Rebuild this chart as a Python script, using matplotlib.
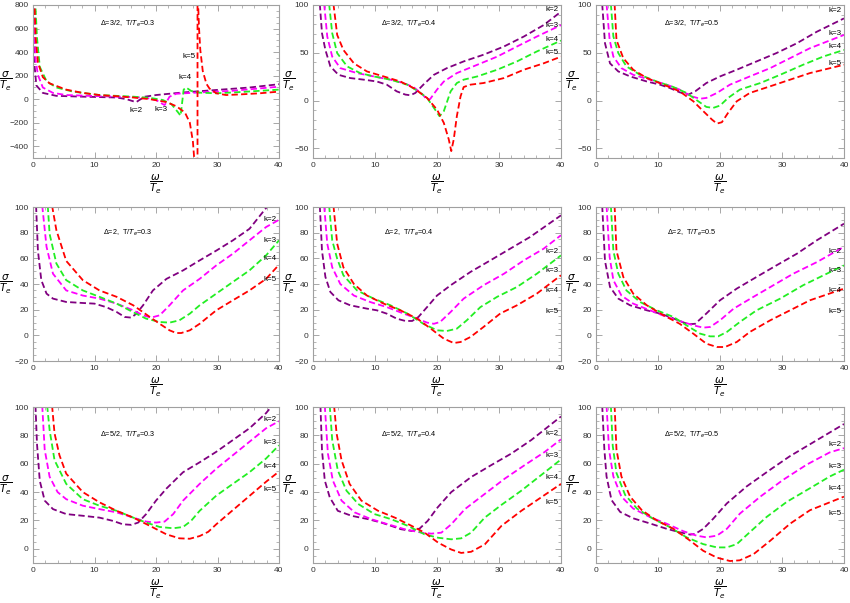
import numpy as np
import matplotlib
matplotlib.use("Agg")
import matplotlib.pyplot as plt
from matplotlib.ticker import MultipleLocator, AutoMinorLocator

plt.rcParams['font.family'] = ['Liberation Sans', 'DejaVu Sans']
plt.rcParams['mathtext.fontset'] = 'dejavusans'

# curves: (omega/Te, sigma/Te) points, k = 2, 3, 4, 5
# --- Delta = 3/2, T/Te = 0.3
a_k2 = [(0.1, 900), (0.27, 275), (0.54, 117), (1.6, 53), (3.8, 28), (8.1, 21), (13.6, 14), (15.2, 0),
        (16.3, -18), (16.8, -25), (17.3, -7), (18.2, 21), (20, 35), (24.4, 57), (29.8, 78), (35.2, 99), (40, 127)]
a_k3 = [(0.15, 900), (0.4, 346), (0.8, 205), (1.6, 99), (3.25, 53), (5.4, 35), (10.8, 25), (16.3, 18),
        (18.4, 11), (20, -7), (21.1, -42), (21.4, -50), (21.7, -25), (22.2, 21), (23.3, 46), (27.1, 57),
        (32.5, 71), (40, 106)]
a_k4 = [(0.3, 900), (0.65, 523), (1.1, 275), (2.2, 152), (3.8, 99), (6.5, 64), (10.8, 35), (16.3, 21),
        (19, 11), (21.1, -7), (22.5, -42), (23.6, -113), (24, -141), (24.3, -7), (24.5, 81), (24.9, 99),
        (25.7, 70), (27.1, 55), (29.8, 50), (33, 58), (40, 81)]
a_k5 = [(0.2, 900), (0.43, 523), (0.8, 311), (1.6, 187), (2.7, 134), (5.4, 81), (8.1, 53), (10.8, 35),
        (13.6, 25), (16.3, 14), (19, 0), (21.7, -25), (23.3, -60), (24.7, -113), (25.5, -200), (26, -360),
        (26.5, -700), (26.75, -900), (26.75, 950), (27.0, 600), (27.2, 420), (27.6, 240), (28.2, 130),
        (28.7, 90), (29.8, 50), (31.4, 35), (33.6, 40), (36.9, 50), (40, 64)]

# --- Delta = 3/2, T/Te = 0.4
b_k2 = [(1.1, 101), (1.45, 70.5), (2, 53), (2.8, 35.8), (4.1, 27), (6, 23.6), (8.2, 21.9), (10.3, 20),
        (11.9, 16.7), (13.5, 9.7), (14.9, 6.3), (15.7, 5.6), (16.5, 8), (17.8, 16.7), (19.5, 27), (21.6, 34),
        (24.3, 41), (27.5, 48), (30.8, 56.6), (34, 67), (37.2, 79), (40, 93)]
b_k3 = [(1.8, 101), (2.3, 67), (3.1, 46), (4.4, 34), (7.1, 28.8), (9.8, 25.3), (12.5, 21.9), (14.6, 18.4),
        (16.2, 14.2), (17.6, 7), (18.4, 1), (18.9, 1.7), (20, 11.5), (21.1, 20), (23.2, 28.8), (26.5, 37.5),
        (29.7, 46), (32.9, 56.6), (36.1, 67), (40, 79)]
b_k4 = [(2.6, 101), (3.1, 70.5), (3.9, 49.7), (5.5, 35.8), (7.6, 28.8), (9.8, 25.3), (12.5, 21.9),
        (15.2, 16.7), (17, 9.7), (18.4, 2.8), (19.5, -7.6), (20.4, -16.3), (21.1, -11), (22.2, 9.7),
        (23.2, 18.4), (24.3, 21.9), (26.5, 25.3), (29.7, 32.3), (32.9, 41), (36.1, 51.4), (40, 62.8)]
b_k5 = [(3.3, 101), (3.9, 68.7), (4.9, 53), (6.6, 39), (8.7, 30.5), (11.4, 25.3), (14.1, 20), (16.2, 13.2),
        (18.4, 2.8), (20, -9.4), (21.1, -23.3), (21.9, -40.6), (22.3, -52.8), (22.7, -40.6), (23.2, -16.3),
        (23.8, 4.5), (24.3, 14.2), (25.4, 16.7), (27.5, 18.4), (30.8, 23.6), (34, 32.3), (37.2, 39), (40, 46)]

# --- Delta = 3/2, T/Te = 0.5
c_k2 = [(1, 101), (1.45, 60), (2.26, 39), (3.6, 30.5), (5.5, 25.3), (8.2, 20), (10.3, 16.7), (11.9, 13.2),
        (13.5, 8.7), (14.9, 6.3), (16, 9.7), (17.8, 18.4), (20, 25.3), (22.7, 32.3), (25.9, 41), (29.1, 49.7),
        (32.4, 60), (35.6, 72), (40, 86)]
c_k3 = [(1.7, 101), (2.2, 63.5), (2.8, 46), (4.1, 34), (6, 27), (8.7, 21.9), (11.4, 16.7), (13.5, 11.5),
        (15.4, 4.5), (16.8, 2), (17.8, 2.8), (19.5, 8), (21.6, 16.7), (24.8, 25.3), (28.1, 34), (31.3, 44.4),
        (34.5, 54.8), (40, 68.7)]
c_k4 = [(2.4, 101), (2.8, 67), (3.6, 49.7), (4.9, 35.8), (7.1, 27), (9.8, 20), (12.5, 14.2), (14.6, 8),
        (16.5, -0.7), (17.8, -6.6), (18.9, -7.6), (20, -5.2), (21.3, 2.8), (23.2, 11.5), (26.5, 18.4),
        (29.7, 27), (33.4, 37.5), (36.7, 46.2), (40, 53)]
c_k5 = [(3, 101), (3.3, 63.5), (4.4, 44.4), (6, 32.3), (8.2, 23.6), (10.9, 16.7), (13.5, 9.7), (15.7, -0.7),
        (17.3, -11), (18.7, -19.8), (19.5, -24), (20.3, -22.6), (21.3, -12.8), (22.7, -0.7), (24.8, 8),
        (28.1, 15), (31.3, 21.9), (34.5, 28.8), (40, 37.5)]

# --- Delta = 2, T/Te = 0.3
d_k2 = [(0.5, 101), (0.8, 66), (1.35, 43), (2.2, 32.5), (3.25, 28.6), (5.4, 26), (8.1, 25.2), (10, 24.7),
        (11.9, 22), (13.6, 18.2), (14.9, 14.3), (16, 13.8), (16.8, 16.9), (17.9, 23.4), (19.5, 35), (21.7, 44),
        (24.4, 50.6), (27.1, 58.4), (29.8, 66), (32.5, 74), (35.2, 83), (38.2, 101)]
d_k3 = [(1.5, 101), (2.2, 69), (3.25, 48), (5.4, 35), (8.1, 31), (10.8, 28.6), (13.6, 24.7), (16.3, 19.5),
        (17.9, 15.6), (19.2, 13.8), (20.6, 15.6), (22.2, 23.4), (24.4, 35), (27.1, 44), (29.8, 54.5),
        (32.5, 63.6), (35.2, 74), (37.9, 84.4), (40, 90)]
d_k4 = [(2.4, 101), (2.7, 79), (3.8, 56), (5.4, 43), (8.1, 35), (10.8, 30), (13.6, 24.7), (16.3, 18),
        (18.4, 13), (20.6, 10.4), (22.2, 9.9), (23.8, 11.7), (25.5, 16.9), (27.1, 23.4), (29.8, 32.5),
        (32.5, 41.6), (35.2, 50.6), (37.9, 62.3), (40, 74)]
d_k5 = [(3.1, 101), (3.8, 82), (5.4, 58), (8.1, 43), (10.8, 35), (13.6, 30), (16.3, 23.4), (19, 14.3),
        (20.6, 9), (22.2, 3.9), (23.3, 1.8), (24.1, 1.8), (25.5, 3.9), (27.1, 9), (29.8, 19.5), (32.5, 27.3),
        (35.2, 35), (37.9, 44), (40, 55)]

# --- Delta = 2, T/Te = 0.4
e_k2 = [(1.1, 101), (1.45, 66), (2, 45.5), (2.8, 33.8), (4.1, 27.3), (6, 23.4), (8.7, 20.8), (10.3, 19.5),
        (11.9, 16.9), (13.5, 13), (14.9, 11.2), (16, 11.2), (17, 14.3), (18.4, 22), (20, 31), (22.2, 39),
        (25.4, 49.4), (28.6, 58.4), (31.8, 67.5), (35, 76.6), (40, 93.5)]
e_k3 = [(1.8, 101), (2.3, 71.4), (3.1, 53), (4.4, 40), (6.6, 31), (9.2, 26), (11.9, 22), (14.6, 17),
        (16.8, 13), (18.4, 9.9), (19.5, 9), (20.5, 10.4), (22.2, 18.2), (24.3, 28.6), (27.5, 39), (30.8, 48),
        (34, 58.4), (37.2, 67.5), (40, 78)]
e_k4 = [(2.6, 101), (3.1, 74), (3.9, 59.7), (4.9, 46.8), (7.1, 35), (9.8, 28.6), (12.5, 23.4), (15.2, 17),
        (17.8, 9), (20, 3.9), (21.6, 3.4), (23.2, 5.2), (24.8, 11.7), (27, 22), (29.7, 30), (32.9, 37.7),
        (36.1, 48), (40, 62.3)]
e_k5 = [(3.3, 101), (3.9, 71.4), (4.9, 53), (6.6, 40), (8.7, 31), (11.4, 24.7), (14.1, 19.5), (16.8, 13),
        (19, 5.2), (21.1, -2.6), (22.7, -6), (23.8, -5.2), (25.4, -1.3), (27.5, 6.5), (30.2, 17), (32.9, 23.4),
        (36.1, 32.5), (40, 46.8)]

# --- Delta = 2, T/Te = 0.5
f_k2 = [(1, 101), (1.45, 58), (2.26, 37.7), (3.6, 28.6), (5.5, 23.4), (8.2, 19.5), (10.3, 17), (11.9, 14.3),
        (13.5, 11.2), (14.9, 8.6), (16, 9), (17.8, 17), (20, 27.3), (22.7, 36.4), (25.9, 45.5), (29.1, 54.5),
        (32.4, 63.6), (35.6, 74), (40, 87)]
f_k3 = [(1.7, 101), (2.2, 61), (2.8, 43), (4.1, 31), (6, 24.7), (8.7, 19.5), (11.4, 14.3), (13.5, 11.2),
        (15.7, 7.8), (17.3, 6), (18.4, 6.5), (20, 11.7), (22.2, 20.8), (25.4, 30), (28.6, 39), (31.8, 48),
        (35.6, 57), (40, 69)]
f_k4 = [(2.4, 101), (2.8, 66), (3.6, 48), (4.9, 35), (7.1, 26), (9.8, 19.5), (12.5, 14.3), (14.6, 7.8),
        (16.8, 1.3), (18.4, -0.8), (19.7, -0.8), (21.1, 2.6), (23.2, 10.4), (25.9, 19.5), (29.7, 28.6),
        (33.4, 39), (36.7, 46.8), (40, 54.5)]
f_k5 = [(3, 101), (3.3, 66), (4.4, 45.5), (6, 32.5), (8.2, 23.4), (10.9, 15.6), (13.5, 9), (15.7, 1.3),
        (17.8, -6.5), (19.5, -9.1), (20.8, -9.1), (22.7, -5.2), (24.8, 2.6), (28.1, 11.7), (31.3, 19.5),
        (34.5, 27.3), (40, 36.4)]

# --- Delta = 5/2, T/Te = 0.3
g_k2 = [(0.4, 101), (0.65, 74), (1.1, 48), (1.9, 34), (3.25, 28), (5.4, 24.5), (8.1, 23.3), (10.8, 22),
        (13, 19.7), (14.6, 17.3), (16, 16.9), (17.1, 18.5), (18.4, 24.5), (20, 34), (21.7, 42.5), (24.4, 54),
        (27.1, 61), (29.8, 68.4), (32.5, 76.7), (35.2, 85), (37.9, 95.7), (38.9, 101)]
g_k3 = [(1.5, 101), (1.9, 70), (2.7, 50.8), (4, 40), (5.4, 35), (8.1, 30.4), (10.8, 28), (13.6, 25.7),
        (16.3, 22), (18.4, 19.2), (20, 18.5), (21.4, 19.2), (22.8, 24.5), (24.4, 34), (27.1, 45.8),
        (29.8, 56.5), (32.5, 66), (35.2, 75.5), (37.9, 85), (40, 90)]
g_k4 = [(2.3, 101), (2.7, 83.8), (3.5, 62.5), (5.4, 45.8), (8.1, 35), (10.8, 30.4), (13.6, 26.8), (16.3, 22),
        (18.4, 18.5), (20.6, 15.4), (22.8, 14.5), (24.4, 15.4), (25.7, 19.7), (27.1, 26.8), (29.8, 37.5),
        (32.5, 45.8), (35.2, 54), (37.9, 63.7), (40, 73)]
g_k5 = [(3.1, 101), (3.5, 81.5), (4.3, 66), (5.4, 53), (8.1, 40), (10.8, 32.8), (13.6, 26.8), (16.3, 22),
        (19, 16.2), (21.7, 10.2), (23.8, 7.4), (25.5, 7.1), (27.1, 9), (28.5, 12), (29.8, 17.3), (32.5, 27.3),
        (35.2, 37.3), (37.9, 47.3), (40, 54.5)]

# --- Delta = 5/2, T/Te = 0.4
h_k2 = [(1.2, 101), (1.45, 69.6), (1.9, 48.2), (2.7, 36.3), (4, 26.8), (6.2, 23.3), (8.9, 20.9), (11, 18.5),
        (12.6, 16.2), (14.2, 13.8), (15.9, 12.6), (17.2, 14.3), (18.5, 19.7), (20.1, 29.2), (22.3, 40),
        (25.5, 50.6), (28.7, 58.9), (32, 67.2), (35.2, 76.7), (40, 93.3)]
h_k3 = [(1.9, 101), (2.4, 67.2), (3.2, 48.2), (4.6, 34), (6.7, 25.7), (9.4, 20.9), (12.1, 17.3), (14.8, 13.8),
        (17.5, 11.4), (19.1, 10.7), (20.7, 11.4), (22.3, 17.3), (24.5, 28), (27.7, 38.7), (30.9, 49.4),
        (34.1, 58.9), (37.4, 68.4), (40, 77.2)]
h_k4 = [(2.7, 101), (3.1, 76.7), (4, 55.3), (5.4, 41), (7.3, 31.6), (9.9, 24.5), (12.6, 20.9), (15.3, 16.2),
        (18, 10.2), (20.2, 7.8), (22.3, 6.7), (23.9, 7.4), (25.5, 11.4), (27.7, 22), (30.4, 31), (33.6, 41),
        (36.8, 52), (40, 63)]
h_k5 = [(3.4, 101), (3.8, 81.5), (4.6, 62.5), (5.9, 45.8), (7.8, 34), (10.5, 26.8), (13.2, 22), (15.9, 16.2),
        (18, 11.4), (20.2, 4.3), (22.3, -0.5), (23.9, -2.9), (25.5, -2.1), (27.7, 3.1), (30.4, 16.2),
        (33.6, 26.8), (36.8, 36.3), (40, 45.8)]

# --- Delta = 5/2, T/Te = 0.5
i_k2 = [(1, 101), (1.35, 70), (1.7, 51), (2.5, 34.4), (3.9, 26), (6, 21.5), (8.7, 17.9), (11.4, 14.1),
        (13.5, 11.7), (15.2, 10), (16, 10.5), (17.3, 14.1), (18.9, 21.2), (21.1, 32), (24.3, 44), (28.1, 55.8),
        (31.3, 65.4), (34.5, 73.7), (40, 88)]
i_k3 = [(1.7, 101), (2.1, 70), (2.8, 51), (4.1, 36.8), (6, 28.4), (8.7, 22.4), (11.4, 17.7), (14.1, 12.4),
        (16.2, 9.3), (17.8, 8.1), (19.5, 9.3), (21.1, 14.1), (23.2, 24.8), (26.5, 36.8), (30.2, 48.7),
        (34, 59.4), (37.7, 68), (40, 71)]
i_k4 = [(2.4, 101), (2.7, 72.6), (3.3, 53.5), (4.7, 38), (6.6, 28.4), (9.2, 21.2), (11.9, 15.3), (14.6, 8.1),
        (17.3, 3.3), (19.5, 1), (21.1, 1), (22.7, 3.3), (24.8, 11.7), (27.5, 22.4), (30.8, 33.2), (34.5, 42.7),
        (37.7, 51), (40, 55.8)]
i_k5 = [(3, 101), (3.3, 70), (4.1, 51), (5.5, 36.8), (7.4, 27.2), (9.8, 20), (12.5, 14.1), (15.2, 5.7),
        (17.3, -1.4), (19.5, -6.2), (21.6, -8.6), (23.2, -8.1), (25.4, -3.8), (28.1, 5.7), (31.3, 17.7),
        (34.5, 27.2), (40, 36.8)]

titles = [r"$\Delta$=3/2,  T/$T_e$=0.3", r"$\Delta$=3/2,  T/$T_e$=0.4", r"$\Delta$=3/2,  T/$T_e$=0.5",
          r"$\Delta$=2,  T/$T_e$=0.3", r"$\Delta$=2,  T/$T_e$=0.4", r"$\Delta$=2,  T/$T_e$=0.5",
          r"$\Delta$=5/2,  T/$T_e$=0.3", r"$\Delta$=5/2,  T/$T_e$=0.4", r"$\Delta$=5/2,  T/$T_e$=0.5"]
k_names = ["k=2", "k=3", "k=4", "k=5"]
colors = ["#800080", "#ff00ff", "#22ee22", "#ff0000"]

# where the k labels sit (y at x~38.6); the first panel has them inside the plot
k_label_y = [None, [95, 79, 64, 50], [94, 70.5, 56.6, 38.5],
             [90, 74, 60, 43.5], [65, 50.6, 35, 18.2], [65, 50.6, 35, 18.2],
             [91, 74.8, 57.7, 41.6], [81.5, 66, 50, 32.8], [73.7, 58, 42.7, 24.8]]
a_label_xy = [(16.8, -95), (20.9, -85), (24.8, 180), (25.3, 364)]

ylims = [(-500, 800), (-60, 100), (-60, 100),
         (-20, 100), (-20, 100), (-20, 100),
         (-10, 100), (-10, 100), (-10, 100)]
ysteps = [200, 50, 50, 20, 20, 20, 20, 20, 20]

panels = [[a_k2, a_k3, a_k4, a_k5], [b_k2, b_k3, b_k4, b_k5], [c_k2, c_k3, c_k4, c_k5],
          [d_k2, d_k3, d_k4, d_k5], [e_k2, e_k3, e_k4, e_k5], [f_k2, f_k3, f_k4, f_k5],
          [g_k2, g_k3, g_k4, g_k5], [h_k2, h_k3, h_k4, h_k5], [i_k2, i_k3, i_k4, i_k5]]

W, H = 850, 603
fig = plt.figure(figsize=(W / 100, H / 100), dpi=100)

col_left = [33, 313, 596]
col_w = [246, 248, 248]
row_top = [5, 207, 407]
row_h = [153, 154, 156]
title_y = [0.875, 0.835, 0.82]
ylab_x = [-0.11, -0.097, -0.097]

for n in range(9):
    r, c = divmod(n, 3)
    ax = fig.add_axes([col_left[c] / W, 1 - (row_top[r] + row_h[r]) / H, col_w[c] / W, row_h[r] / H])
    for pts, col in zip(panels[n], colors):
        xy = np.array(pts, dtype=float)
        ax.plot(xy[:, 0], xy[:, 1], color=col, lw=1.3, dashes=(3.5, 1.8))
    ax.set_xlim(0, 40)
    ax.set_ylim(*ylims[n])
    ax.xaxis.set_major_locator(MultipleLocator(10))
    ax.yaxis.set_major_locator(MultipleLocator(ysteps[n]))
    ax.xaxis.set_minor_locator(AutoMinorLocator(5))
    ax.yaxis.set_minor_locator(AutoMinorLocator(5 if ysteps[n] == 50 else 4))
    ax.tick_params(which='both', direction='in', top=True, right=True, color='#999999',
                   labelsize=6, labelcolor='#333333', pad=3)
    ax.tick_params(which='major', length=4, width=0.6)
    ax.tick_params(which='minor', length=2, width=0.5)
    for sp in ax.spines.values():
        sp.set_color('#a0a0a0')
        sp.set_linewidth(0.8)
    ax.text(0.385, title_y[r], titles[n], transform=ax.transAxes, ha='center', va='center', fontsize=5.2)
    if n == 0:
        for name, (lx, ly) in zip(k_names, a_label_xy):
            ax.text(lx, ly, name, ha='center', va='center', fontsize=5.8)
    else:
        for name, ly in zip(k_names, k_label_y[n]):
            ax.text(38.6, ly, name, ha='center', va='center', fontsize=5.8)
    ax.text(ylab_x[c], 0.5, r"$\dfrac{\sigma}{T_e}$", transform=ax.transAxes, ha='center', va='center',
            fontsize=7.5)
    ax.text(0.5, -0.17, r"$\dfrac{\omega}{T_e}$", transform=ax.transAxes, ha='center', va='center',
            fontsize=7.5)

fig.savefig("out.png", dpi=100)
